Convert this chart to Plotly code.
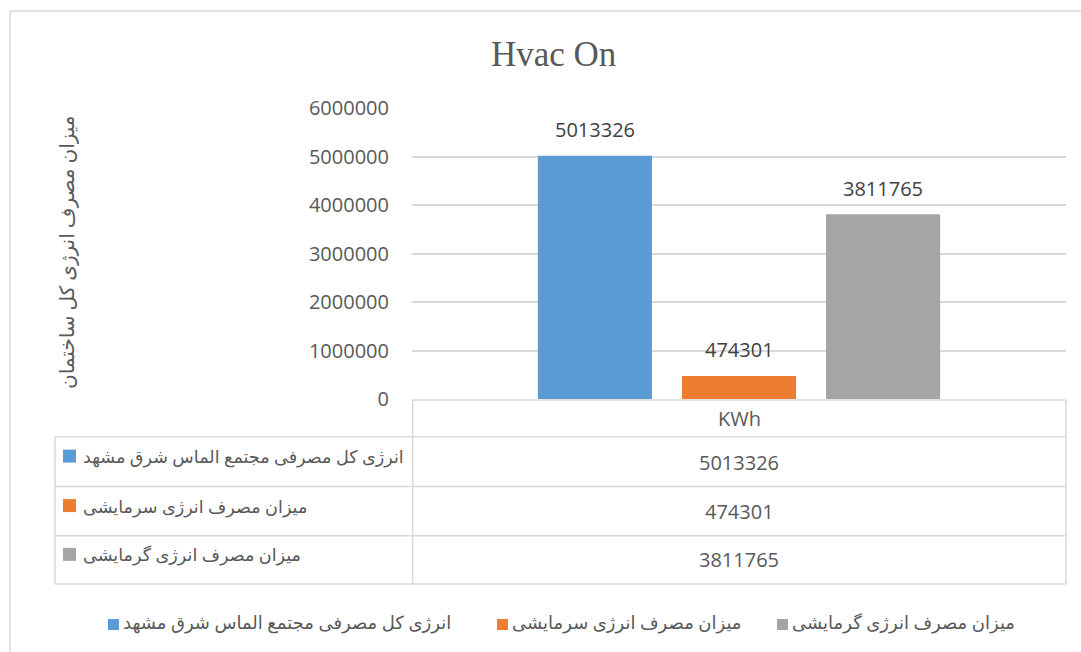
import plotly.graph_objects as go

# ---------------- data ----------------
category = ["KWh"]
series_names = [
    "انرژی کل مصرفی مجتمع الماس شرق مشهد",
    "میزان مصرف انرژی سرمایشی",
    "میزان مصرف انرژی گرمایشی",
]
series_values = [5013326, 474301, 3811765]
series_colors = ["#5B9BD5", "#ED7D31", "#A5A5A5"]
y_ticks = [0, 1000000, 2000000, 3000000, 4000000, 5000000, 6000000]
title_text = "Hvac On"
y_title = "میزان مصرف انرژی کل ساختمان"

# ---------------- layout geometry (pixels) ----------------
W, H = 1081, 652
PL, PR, PT, PB = 412, 1066, 108, 399   # plot area


def px(x):
    return x / W


def py(y):
    return 1 - y / H


GRID = "#d9d9d9"
TXT = "#595959"
NUM_FONT = "Open Sans, Liberation Sans, sans-serif"
FA_FONT = "Times New Roman, Liberation Serif, DejaVu Sans, serif"

fig = go.Figure()
for name, val, col in zip(series_names, series_values, series_colors):
    fig.add_trace(go.Bar(
        x=category, y=[val], name=name,
        marker=dict(color=col, line=dict(width=0)),
        showlegend=False, hoverinfo="y+name",
    ))

shapes = []
annotations = []

# data labels above bars
n = len(series_values)
slot = (PR - PL) * (1 - 0.339) / n
for i, val in enumerate(series_values):
    annotations.append(dict(
        x=category[0], y=val, xref="x", yref="y",
        xshift=(i - (n - 1) / 2) * slot, yshift=26,
        text=str(val), showarrow=False, yanchor="middle",
        font=dict(family=NUM_FONT, size=20, color="#404040"),
    ))

# title
annotations.append(dict(
    x=px(553), y=py(55), xref="paper", yref="paper",
    text=title_text, showarrow=False, xanchor="center", yanchor="middle",
    font=dict(family="Liberation Serif, Times New Roman, serif", size=35, color=TXT),
))

# y-axis title
annotations.append(dict(
    x=px(67), y=py(252), xref="paper", yref="paper",
    text=y_title, showarrow=False, textangle=-90,
    xanchor="center", yanchor="middle",
    font=dict(family=FA_FONT, size=20, color=TXT),
))

# outer chart border (left and top visible)
shapes.append(dict(type="line", xref="paper", yref="paper",
                   x0=px(10), x1=px(10), y0=py(11), y1=py(H + 5),
                   line=dict(color=GRID, width=1.5)))
shapes.append(dict(type="line", xref="paper", yref="paper",
                   x0=px(10), x1=px(W + 5), y0=py(11), y1=py(11),
                   line=dict(color=GRID, width=1.5)))

# data table
TL, TR = 55, 1066
rows_y = [436.7, 486.5, 535.7, 584]
header_top = 400
lw = 1.5
shapes.append(dict(type="line", xref="paper", yref="paper",
                   x0=px(PL), x1=px(TR), y0=py(header_top), y1=py(header_top),
                   line=dict(color=GRID, width=lw)))
for ry in rows_y:
    shapes.append(dict(type="line", xref="paper", yref="paper",
                       x0=px(TL), x1=px(TR), y0=py(ry), y1=py(ry),
                       line=dict(color=GRID, width=lw)))
shapes.append(dict(type="line", xref="paper", yref="paper",
                   x0=px(TL), x1=px(TL), y0=py(rows_y[0]), y1=py(rows_y[-1]),
                   line=dict(color=GRID, width=lw)))
for vx in (PL + 0.7, TR):
    shapes.append(dict(type="line", xref="paper", yref="paper",
                       x0=px(vx), x1=px(vx), y0=py(header_top), y1=py(rows_y[-1]),
                       line=dict(color=GRID, width=lw)))

# header
annotations.append(dict(
    x=px((PL + TR) / 2), y=py(418), xref="paper", yref="paper",
    text=category[0], showarrow=False, xanchor="center", yanchor="middle",
    font=dict(family=NUM_FONT, size=20, color=TXT),
))

val_y = [462, 511, 559]
for i, (name, val, col) in enumerate(zip(series_names, series_values, series_colors)):
    top, bot = rows_y[i], rows_y[i + 1]
    cy = (top + bot) / 2
    # key square
    shapes.append(dict(type="rect", xref="paper", yref="paper",
                       x0=px(63), x1=px(76), y0=py(cy - 12), y1=py(cy + 1),
                       fillcolor=col, line=dict(width=0)))
    annotations.append(dict(
        x=px(81), y=py(cy - 4), xref="paper", yref="paper",
        text=name, showarrow=False, xanchor="left", yanchor="middle",
        font=dict(family=FA_FONT, size=17.6, color=TXT),
    ))
    annotations.append(dict(
        x=px((PL + TR) / 2), y=py(val_y[i]), xref="paper", yref="paper",
        text=str(val), showarrow=False, xanchor="center", yanchor="middle",
        font=dict(family=NUM_FONT, size=20, color=TXT),
    ))

# bottom legend
leg_sq_x = [108, 497, 777]
leg_cy = 625
for i, (name, col) in enumerate(zip(series_names, series_colors)):
    x0 = leg_sq_x[i]
    shapes.append(dict(type="rect", xref="paper", yref="paper",
                       x0=px(x0), x1=px(x0 + 11), y0=py(leg_cy - 6), y1=py(leg_cy + 5),
                       fillcolor=col, line=dict(width=0)))
    annotations.append(dict(
        x=px(x0 + 13), y=py(leg_cy - 2), xref="paper", yref="paper",
        text=name, showarrow=False, xanchor="left", yanchor="middle",
        font=dict(family=FA_FONT, size=18, color=TXT),
    ))

fig.update_layout(
    width=W, height=H, autosize=False,
    margin=dict(l=0, r=0, t=0, b=0, pad=0, autoexpand=False),
    paper_bgcolor="white", plot_bgcolor="white",
    barmode="group", bargap=0.339, bargroupgap=0.208,
    showlegend=False,
    shapes=shapes, annotations=annotations,
    xaxis=dict(domain=[px(PL), px(PR)], showticklabels=False, showgrid=False,
               zeroline=False, showline=False, fixedrange=True, automargin=False),
    yaxis=dict(domain=[py(PB), py(PT)], range=[0, 6000000],
               tickvals=y_ticks, ticktext=[str(v) for v in y_ticks],
               showgrid=True, gridcolor=GRID, gridwidth=1.5,
               zeroline=False, showline=False, ticks="", automargin=False,
               ticklabelstandoff=22,
               tickfont=dict(family=NUM_FONT, size=20, color=TXT)),
)

fig.write_html(
    "out.html",
    config={"displayModeBar": False},
    post_script="document.body.style.margin='0px';document.body.style.overflow='hidden';",
)
